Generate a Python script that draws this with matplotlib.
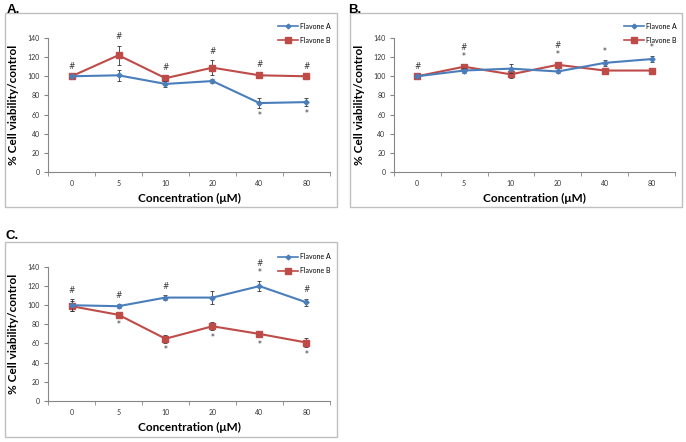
import matplotlib
matplotlib.use("Agg")
import matplotlib.pyplot as plt
from matplotlib.patches import Rectangle
from matplotlib.lines import Line2D
from matplotlib.ticker import FixedLocator

plt.rcParams['font.family'] = ['Lato', 'DejaVu Sans']

# Data
concentrations = ["0", "5", "10", "20", "40", "80"]

a_flavone_a = [100, 101, 92, 95, 72, 73]
a_flavone_a_err = [1, 6, 3, 2, 5, 4]
a_flavone_b = [100, 122, 98, 109, 101, 100]
a_flavone_b_err = [1, 10, 2, 8, 2, 1]
a_marks_top = ["#", "#", "#", "#", "#", "#"]
a_marks_bottom_a = ["", "", "", "", "*", "*"]
a_marks_bottom_b = ["", "", "", "", "", ""]

b_flavone_a = [100, 106, 108, 105, 114, 118]
b_flavone_a_err = [1, 3, 5, 2, 3, 3]
b_flavone_b = [100, 110, 102, 112, 106, 106]
b_flavone_b_err = [1, 2, 4, 2, 1, 2]
b_marks_top = ["#", "#\n*", "", "#\n*", "*", "*"]
b_marks_bottom_a = ["", "", "", "", "", ""]
b_marks_bottom_b = ["", "", "", "", "", ""]

c_flavone_a = [100, 99, 108, 108, 120, 103]
c_flavone_a_err = [6, 2, 3, 7, 5, 4]
c_flavone_b = [99, 90, 65, 78, 70, 61]
c_flavone_b_err = [5, 3, 4, 4, 3, 5]
c_marks_top = ["#", "#", "#", "", "#\n*", "#"]
c_marks_bottom_a = ["", "", "", "", "", ""]
c_marks_bottom_b = ["", "*", "*", "*", "*", "*"]

BLUE = "#4a7ebb"
RED = "#be4b48"
AXIS_GRAY = "#868686"
FRAME_GRAY = "#bfbfbf"
MARK_COLOR = "#333333"


def draw_panel(fig, rect, frame, label, label_pos, fa, fa_err, fb, fb_err,
               marks_top, marks_bot_a, marks_bot_b, legend_anchor):
    # light gray frame round the panel
    fig.add_artist(Rectangle(frame[:2], frame[2], frame[3], transform=fig.transFigure,
                             fill=False, edgecolor=FRAME_GRAY, linewidth=1.0))
    fig.text(label_pos[0], label_pos[1], label, fontsize=9.5, fontweight='bold',
             family='Liberation Sans', va='top', ha='left')

    ax = fig.add_axes(rect)
    x = list(range(len(concentrations)))
    ax.errorbar(x, fa, yerr=fa_err, color=BLUE, marker='D', markersize=2.6,
                linewidth=1.5, ecolor='#333333', elinewidth=0.6, capsize=1.5,
                capthick=0.6, zorder=3)
    ax.errorbar(x, fb, yerr=fb_err, color=RED, marker='s', markersize=5,
                linewidth=1.5, ecolor='#333333', elinewidth=0.6, capsize=1.5,
                capthick=0.6, zorder=2)

    for i in x:
        top = max(fa[i] + fa_err[i], fb[i] + fb_err[i])
        if marks_top[i]:
            ax.annotate(marks_top[i], (i, top), xytext=(0, 3), textcoords='offset points',
                        ha='center', va='bottom', fontsize=5.5, linespacing=1.0,
                        color=MARK_COLOR, family='DejaVu Sans')
        if marks_bot_a[i]:
            ax.annotate(marks_bot_a[i], (i, fa[i] - fa_err[i]), xytext=(0, -2),
                        textcoords='offset points', ha='center', va='top',
                        fontsize=5.5, color=MARK_COLOR, family='DejaVu Sans')
        if marks_bot_b[i]:
            ax.annotate(marks_bot_b[i], (i, fb[i] - fb_err[i]), xytext=(0, -2),
                        textcoords='offset points', ha='center', va='top',
                        fontsize=5.5, color=MARK_COLOR, family='DejaVu Sans')

    ax.set_xlim(-0.5, len(x) - 0.5)
    ax.set_ylim(0, 140)
    ax.set_yticks(range(0, 141, 20))
    ax.set_xticks(x)
    ax.set_xticklabels(concentrations)
    ax.xaxis.set_minor_locator(FixedLocator([i - 0.5 for i in range(len(x) + 1)]))
    ax.tick_params(axis='x', which='major', length=0, labelsize=5, pad=6, colors='#333333')
    ax.tick_params(axis='x', which='minor', length=3, direction='out', color=AXIS_GRAY)
    ax.tick_params(axis='y', length=3, direction='out', labelsize=5, color=AXIS_GRAY,
                   labelcolor='#333333', pad=3)
    for side in ['top', 'right']:
        ax.spines[side].set_visible(False)
    for side in ['left', 'bottom']:
        ax.spines[side].set_color(AXIS_GRAY)
        ax.spines[side].set_linewidth(0.8)

    ax.set_ylabel("% Cell viability/control", fontsize=8.5, fontweight='bold', labelpad=6)
    ax.set_xlabel("Concentration (μM)", fontsize=8.5, fontweight='bold', labelpad=4)

    handles = [
        Line2D([], [], color=BLUE, marker='D', markersize=2.4, linewidth=1.2),
        Line2D([], [], color=RED, marker='s', markersize=4.2, linewidth=1.2),
    ]
    ax.legend(handles, ["Flavone A", "Flavone B"], loc='upper right',
              bbox_to_anchor=legend_anchor, bbox_transform=fig.transFigure,
              frameon=False, fontsize=5, handlelength=2.8, handletextpad=0.3,
              labelspacing=1.0, borderaxespad=0)
    return ax


def main():
    fig = plt.figure(figsize=(6.86, 4.42), dpi=100)

    draw_panel(fig, [0.070, 0.611, 0.411, 0.303], [0.0073, 0.532, 0.484, 0.439],
               "A.", (0.010, 0.990), a_flavone_a, a_flavone_a_err, a_flavone_b,
               a_flavone_b_err, a_marks_top, a_marks_bottom_a, a_marks_bottom_b,
               (0.486, 0.955))
    draw_panel(fig, [0.574, 0.611, 0.410, 0.303], [0.510, 0.532, 0.484, 0.439],
               "B.", (0.508, 0.990), b_flavone_a, b_flavone_a_err, b_flavone_b,
               b_flavone_b_err, b_marks_top, b_marks_bottom_a, b_marks_bottom_b,
               (0.990, 0.955))
    draw_panel(fig, [0.070, 0.093, 0.411, 0.303], [0.0073, 0.011, 0.484, 0.441],
               "C.", (0.008, 0.480), c_flavone_a, c_flavone_a_err, c_flavone_b,
               c_flavone_b_err, c_marks_top, c_marks_bottom_a, c_marks_bottom_b,
               (0.486, 0.433))

    fig.savefig("out.png", dpi=100)


if __name__ == "__main__":
    main()
